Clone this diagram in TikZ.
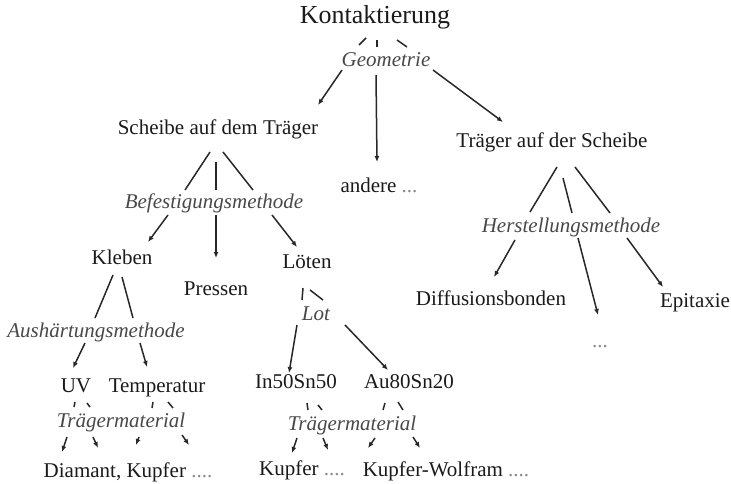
\documentclass[tikz,border=0pt]{standalone}
\usepackage{fontspec}
\setmainfont{Liberation Serif}
\usetikzlibrary{arrows.meta}
\definecolor{txt}{HTML}{1A1A1A}
\definecolor{labc}{HTML}{484848}
\definecolor{dotc}{HTML}{8A8A8A}
\definecolor{linec}{HTML}{282828}
\tikzset{
  tx/.style={font=\fontsize{21}{21}\selectfont, text=txt, inner sep=1pt, text height=14pt, text depth=4pt},
  big/.style={tx, font=\fontsize{26}{26}\selectfont, text height=17pt, text depth=5pt},
  lab/.style={tx, font=\fontsize{21}{21}\selectfont\itshape, text=labc},
  ln/.style={line width=1.5pt, draw=linec},
  ar/.style={ln, -{Latex[length=6pt,width=5pt]}},
}
\newcommand{\dts}[1]{\textcolor{dotc}{#1}}
\begin{document}
\begin{tikzpicture}[x=1pt,y=-1pt]
\useasboundingbox (0,0) rectangle (731,484);
% nodes
\node[big] (kont) at (375,18) {Kontaktierung};
\node[lab] (geo) at (386,62) {Geometrie};
\node[tx] (sch) at (218,130) {Scheibe auf dem Träger};
\node[tx] (and) at (379,188) {andere \dts{...}};
\node[tx] (tr) at (552,143) {Träger auf der Scheibe};
\node[lab] (bef) at (214,203) {Befestigungsmethode};
\node[lab] (her) at (571,227) {Herstellungsmethode};
\node[tx] (kl) at (122,259) {Kleben};
\node[tx] (pr) at (216,290) {Pressen};
\node[tx] (lo) at (307,263) {Löten};
\node[tx] (diff) at (491,300) {Diffusionsbonden};
\node[tx] (hdots) at (600,342) {\dts{...}};
\node[tx] (epi) at (695,302) {Epitaxie};
\node[lab] (aus) at (96,332) {Aushärtungsmethode};
\node[lab] (lot) at (316,315) {Lot};
\node[tx] (uv) at (76,387) {UV};
\node[tx] (temp) at (157,387) {Temperatur};
\node[tx] (in) at (296,383) {In50Sn50};
\node[tx] (au) at (409,383) {Au80Sn20};
\node[lab] (tma) at (121,422) {Trägermaterial};
\node[lab] (tmb) at (352,425) {Trägermaterial};
\node[tx] (dia) at (128,472) {Diamant, Kupfer \dts{....}};
\node[tx] (ku) at (302,470) {Kupfer \dts{....}};
\node[tx] (kw) at (446,471) {Kupfer-Wolfram \dts{....}};
% Kontaktierung -> Geometrie
\draw[ln] ([shift={(-9,20)}]kont.center) -- ([shift={(-27,-17)}]geo.center);
\draw[ln] ([shift={(2,22)}]kont.center) -- ([shift={(-9,-15)}]geo.center);
\draw[ln] ([shift={(22,22)}]kont.center) -- ([shift={(21,-15)}]geo.center);
\draw[ar] ([shift={(-44,8)}]geo.center) -- ([shift={(100,-25)}]sch.center);
\draw[ar] ([shift={(-10,13)}]geo.center) -- ([shift={(-2,-26)}]and.center);
\draw[ar] ([shift={(47,8)}]geo.center) -- ([shift={(-49,-21)}]tr.center);
% Scheibe -> Befestigung
\draw[ln] ([shift={(-8,22)}]sch.center) -- ([shift={(-29,-13)}]bef.center);
\draw[ln] ([shift={(-2,32)}]sch.center) -- ([shift={(2,-13)}]bef.center);
\draw[ln] ([shift={(5,22)}]sch.center) -- ([shift={(39,-13)}]bef.center);
\draw[ar] ([shift={(-46,12)}]bef.center) -- ([shift={(26,-17)}]kl.center);
\draw[ar] ([shift={(2,12)}]bef.center) -- ([shift={(0,-32)}]pr.center);
\draw[ar] ([shift={(58,12)}]bef.center) -- ([shift={(-10,-16)}]lo.center);
% Kleben -> Aushaertung
\draw[ln] ([shift={(-9,16)}]kl.center) -- ([shift={(-1,-14)}]aus.center);
\draw[ln] ([shift={(0,18)}]kl.center) -- ([shift={(37,-14)}]aus.center);
\draw[ar] ([shift={(-11,11)}]aus.center) -- ([shift={(-3,-19)}]uv.center);
\draw[ar] ([shift={(44,11)}]aus.center) -- ([shift={(-10,-20)}]temp.center);
% Loeten -> Lot
\draw[ln] ([shift={(-4,25)}]lo.center) -- ([shift={(-14,-15)}]lot.center);
\draw[ln] ([shift={(3,27)}]lo.center) -- ([shift={(7,-15)}]lot.center);
\draw[ar] ([shift={(-19,10)}]lot.center) -- ([shift={(-7,-10)}]in.center);
\draw[ar] ([shift={(29,10)}]lot.center) -- ([shift={(-21,-13)}]au.center);
% UV / Temperatur -> Traegermaterial
\draw[ln] ([shift={(-1,15)}]uv.center) -- ([shift={(-47,-15)}]tma.center);
\draw[ln] ([shift={(11,16)}]uv.center) -- ([shift={(-31,-15)}]tma.center);
\draw[ln] ([shift={(-4,15)}]temp.center) -- ([shift={(31,-14)}]tma.center);
\draw[ln] ([shift={(11,15)}]temp.center) -- ([shift={(52,-14)}]tma.center);
\draw[ar] ([shift={(-54,15)}]tma.center) -- ([shift={(-66,-20)}]dia.center);
\draw[ar] ([shift={(-28,15)}]tma.center) -- ([shift={(-30,-24)}]dia.center);
\draw[ar] ([shift={(18,15)}]tma.center) -- ([shift={(8,-27)}]dia.center);
\draw[ar] ([shift={(61,13)}]tma.center) -- ([shift={(61,-27)}]dia.center);
% In / Au -> Traegermaterial
\draw[ln] ([shift={(11,20)}]in.center) -- ([shift={(-44,-15)}]tmb.center);
\draw[ln] ([shift={(22,22)}]in.center) -- ([shift={(-30,-15)}]tmb.center);
\draw[ln] ([shift={(-24,20)}]au.center) -- ([shift={(31,-15)}]tmb.center);
\draw[ln] ([shift={(-11,19)}]au.center) -- ([shift={(51,-15)}]tmb.center);
\draw[ar] ([shift={(-55,13)}]tmb.center) -- ([shift={(-10,-17)}]ku.center);
\draw[ar] ([shift={(-29,13)}]tmb.center) -- ([shift={(26,-20)}]ku.center);
\draw[ar] ([shift={(23,13)}]tmb.center) -- ([shift={(-78,-23)}]kw.center);
\draw[ar] ([shift={(61,12)}]tmb.center) -- ([shift={(-26,-23)}]kw.center);
% Traeger -> Herstellung
\draw[ln] ([shift={(5,24)}]tr.center) -- ([shift={(-41,-15)}]her.center);
\draw[ln] ([shift={(11,35)}]tr.center) -- ([shift={(1,-14)}]her.center);
\draw[ln] ([shift={(23,24)}]tr.center) -- ([shift={(39,-14)}]her.center);
\draw[ar] ([shift={(-56,13)}]her.center) -- ([shift={(3,-23)}]diff.center);
\draw[ar] ([shift={(7,11)}]her.center) -- ([shift={(-2,-27)}]hdots.center);
\draw[ar] ([shift={(56,11)}]her.center) -- ([shift={(-32,-15)}]epi.center);
\end{tikzpicture}
\end{document}
